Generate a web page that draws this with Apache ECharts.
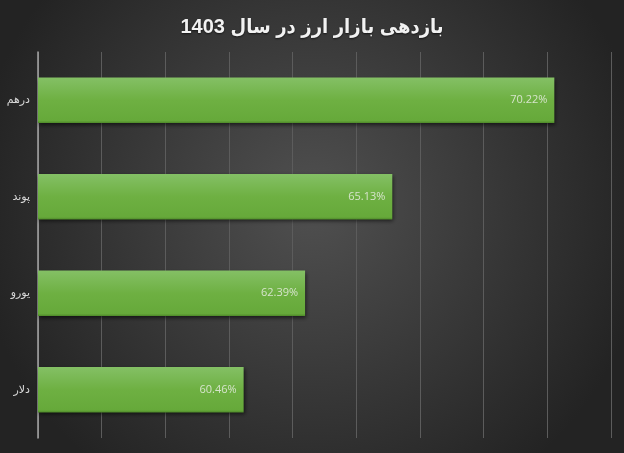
<!DOCTYPE html>
<html>
	<head>
		<meta charset="utf-8">
		<title></title>
		<script src="https://cdn.jsdelivr.net/npm/echarts@6/dist/echarts.min.js"></script>
		<style>
			html,body{margin:0;padding:0;background:#2b2b2b;}
			.chart{width:624px;height:453px;}
		</style>
	</head>
	<body>
		<div class="chart"></div>
		<script>
			// categories bottom -> top
			var categories = ['دلار', 'یورو', 'پوند', 'درهم'];
			var values = [60.46, 62.39, 65.13, 70.22];
			var titleText = 'بازدهی بازار ارز در سال 1403';

			var chart = echarts.init(document.querySelector('.chart'));
			chart.setOption({
				backgroundColor: {
					type: 'radial', x: 0.5, y: 0.45, r: 0.75,
					colorStops: [
						{offset: 0, color: '#505050'},
						{offset: 1, color: '#232323'}
					]
				},
				title: {
					text: titleText,
					left: 'center',
					top: 12,
					textStyle: {
						color: '#f2f2f2',
						fontFamily: '"Liberation Sans", "DejaVu Sans Condensed", "DejaVu Sans"',
						fontWeight: 'bold',
						fontSize: 20,
						textShadowColor: 'rgba(0,0,0,0.6)',
						textShadowBlur: 2,
						textShadowOffsetY: 1
					}
				},
				grid: {
					left: 38,
					right: 13,
					top: 52,
					bottom: 15
				},
				xAxis: {
					type: 'value',
					min: 54,
					max: 72,
					interval: 2,
					axisLabel: {show: false},
					axisLine: {show: false},
					axisTick: {show: false},
					splitLine: {
						lineStyle: {color: '#5c5c5c', width: 1}
					}
				},
				yAxis: {
					type: 'category',
					data: categories,
					axisTick: {show: false},
					axisLine: {
						lineStyle: {color: '#a6a6a6', width: 1.5}
					},
					axisLabel: {
						color: '#d9d9d9',
						fontFamily: 'DejaVu Sans',
						fontSize: 11,
						margin: 8
					}
				},
				series: [{
					type: 'bar',
					data: values,
					barWidth: '47%',
					itemStyle: {
						color: {
							type: 'linear', x: 0, y: 0, x2: 0, y2: 1,
							colorStops: [
								{offset: 0, color: '#84c065'},
								{offset: 0.5, color: '#6eb042'},
								{offset: 0.95, color: '#66a93a'},
								{offset: 1, color: '#4f8a2a'}
							]
						},
						shadowColor: 'rgba(0,0,0,0.6)',
						shadowBlur: 4,
						shadowOffsetY: 2,
						shadowOffsetX: 1
					},
					label: {
						show: true,
						position: 'insideRight',
						offset: [-2, 0],
						color: '#d6e4cc',
						fontFamily: 'Open Sans',
						fontSize: 11,
						formatter: function(p){ return p.value.toFixed(2) + '%'; }
					}
				}]
			});
		</script>
	</body>
</html>
